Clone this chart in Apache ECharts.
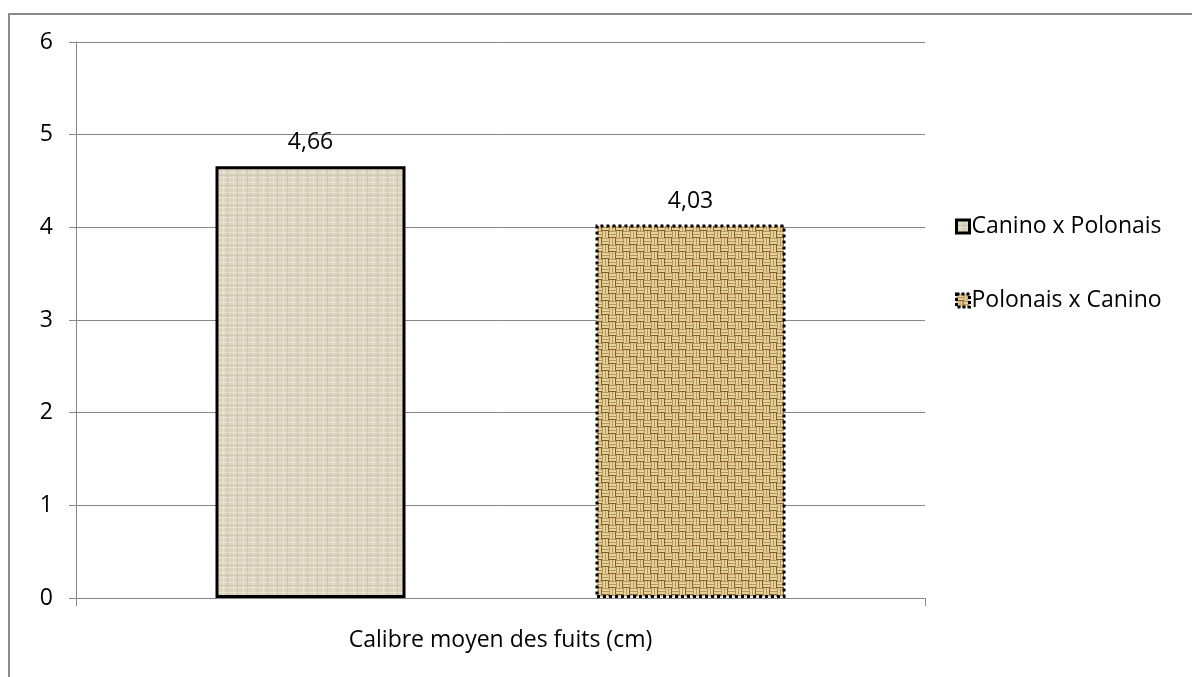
<!DOCTYPE html>
<html>
<head>
<meta charset="utf-8">
<script src="https://cdn.jsdelivr.net/npm/echarts@6/dist/echarts.min.js"></script>
<style>
  html, body { margin: 0; padding: 0; background: #fff; }
  #chart { width: 1192px; height: 677px; }
</style>
</head>
<body>
<div id="chart"></div>
<script>
// data
const categories = ['Calibre moyen des fuits (cm)'];
const seriesNames = ['Canino x Polonais', 'Polonais x Canino'];
const canPol = [4.66];
const polCan = [4.03];
const yTicks = { min: 0, max: 6, interval: 1 };

// linen texture (light)
function linenPattern() {
  const c = document.createElement('canvas');
  c.width = 10; c.height = 10;
  const g = c.getContext('2d');
  g.fillStyle = '#dcd4c1';
  g.fillRect(0, 0, 10, 10);
  g.fillStyle = '#e9e3d4';
  g.fillRect(0, 2, 10, 1);
  g.fillRect(3, 0, 1, 10);
  g.fillRect(0, 7, 10, 1);
  g.fillStyle = '#cfc6b0';
  g.fillRect(7, 0, 1, 10);
  g.fillRect(0, 5, 10, 1);
  return c;
}

// burlap weave texture (tan)
function weavePattern() {
  const c = document.createElement('canvas');
  c.width = 14; c.height = 14;
  const g = c.getContext('2d');
  g.fillStyle = '#b8955a';
  g.fillRect(0, 0, 14, 14);
  g.fillStyle = '#e6d199';
  // horizontal strands in top-left and bottom-right
  g.fillRect(0, 1, 7, 2);
  g.fillRect(0, 4, 7, 2);
  g.fillRect(7, 8, 7, 2);
  g.fillRect(7, 11, 7, 2);
  // vertical strands in top-right and bottom-left
  g.fillRect(8, 0, 2, 7);
  g.fillRect(11, 0, 2, 7);
  g.fillRect(1, 7, 2, 7);
  g.fillRect(4, 7, 2, 7);
  g.fillStyle = '#7f5f32';
  g.fillRect(0, 6, 7, 1);
  g.fillRect(7, 13, 7, 1);
  g.fillRect(13, 0, 1, 7);
  g.fillRect(6, 7, 1, 7);
  return c;
}

const labelFmt = p => String(p.value).replace('.', ',');
const font = 'Open Sans';
const fs = 23;

const chart = echarts.init(document.getElementById('chart'));
chart.setOption({
  animation: false,
  textStyle: { fontFamily: font },
  graphic: [{
    type: 'rect',
    shape: { x: 9, y: 14, width: 1400, height: 900 },
    style: { fill: 'none', stroke: '#8c8c8c', lineWidth: 2 },
    silent: true
  }],
  grid: { left: 76, top: 42, right: 267, bottom: 79 },
  legend: {
    orient: 'vertical',
    left: 950,
    top: 210,
    itemGap: 51,
    itemWidth: 13,
    itemHeight: 13,
    icon: 'rect',
    textStyle: { fontSize: fs, color: '#000', fontFamily: font, padding: [0, 0, 0, -3] },
    data: [
      { name: seriesNames[0], itemStyle: { borderWidth: 3, borderColor: '#000' } },
      { name: seriesNames[1], itemStyle: { borderWidth: 3, borderColor: '#000', borderType: [3, 2] } }
    ]
  },
  xAxis: {
    type: 'category',
    data: categories,
    axisLine: { lineStyle: { color: '#868686', width: 1 } },
    axisTick: { show: true, length: 8, lineStyle: { color: '#868686' } },
    axisLabel: { fontSize: fs, color: '#000', margin: 31 }
  },
  yAxis: {
    type: 'value',
    min: yTicks.min,
    max: yTicks.max,
    interval: yTicks.interval,
    axisLine: { show: true, lineStyle: { color: '#868686', width: 1 } },
    axisTick: { show: true, length: 7, lineStyle: { color: '#868686' } },
    axisLabel: { fontSize: fs, color: '#000', margin: 23 },
    splitLine: { lineStyle: { color: '#868686', width: 1 } }
  },
  series: [
    {
      name: seriesNames[0],
      type: 'bar',
      data: canPol,
      barWidth: 190,
      barGap: '100%',
      itemStyle: {
        color: { image: linenPattern(), repeat: 'repeat' },
        borderColor: '#000',
        borderWidth: 3
      },
      label: { show: true, position: 'top', distance: 12, fontSize: fs, color: '#000', formatter: labelFmt }
    },
    {
      name: seriesNames[1],
      type: 'bar',
      data: polCan,
      barWidth: 190,
      itemStyle: {
        color: { image: weavePattern(), repeat: 'repeat' },
        borderColor: '#000',
        borderWidth: 3,
        borderType: [3, 3]
      },
      label: { show: true, position: 'top', distance: 12, fontSize: fs, color: '#000', formatter: labelFmt }
    }
  ]
});
</script>
</body>
</html>
